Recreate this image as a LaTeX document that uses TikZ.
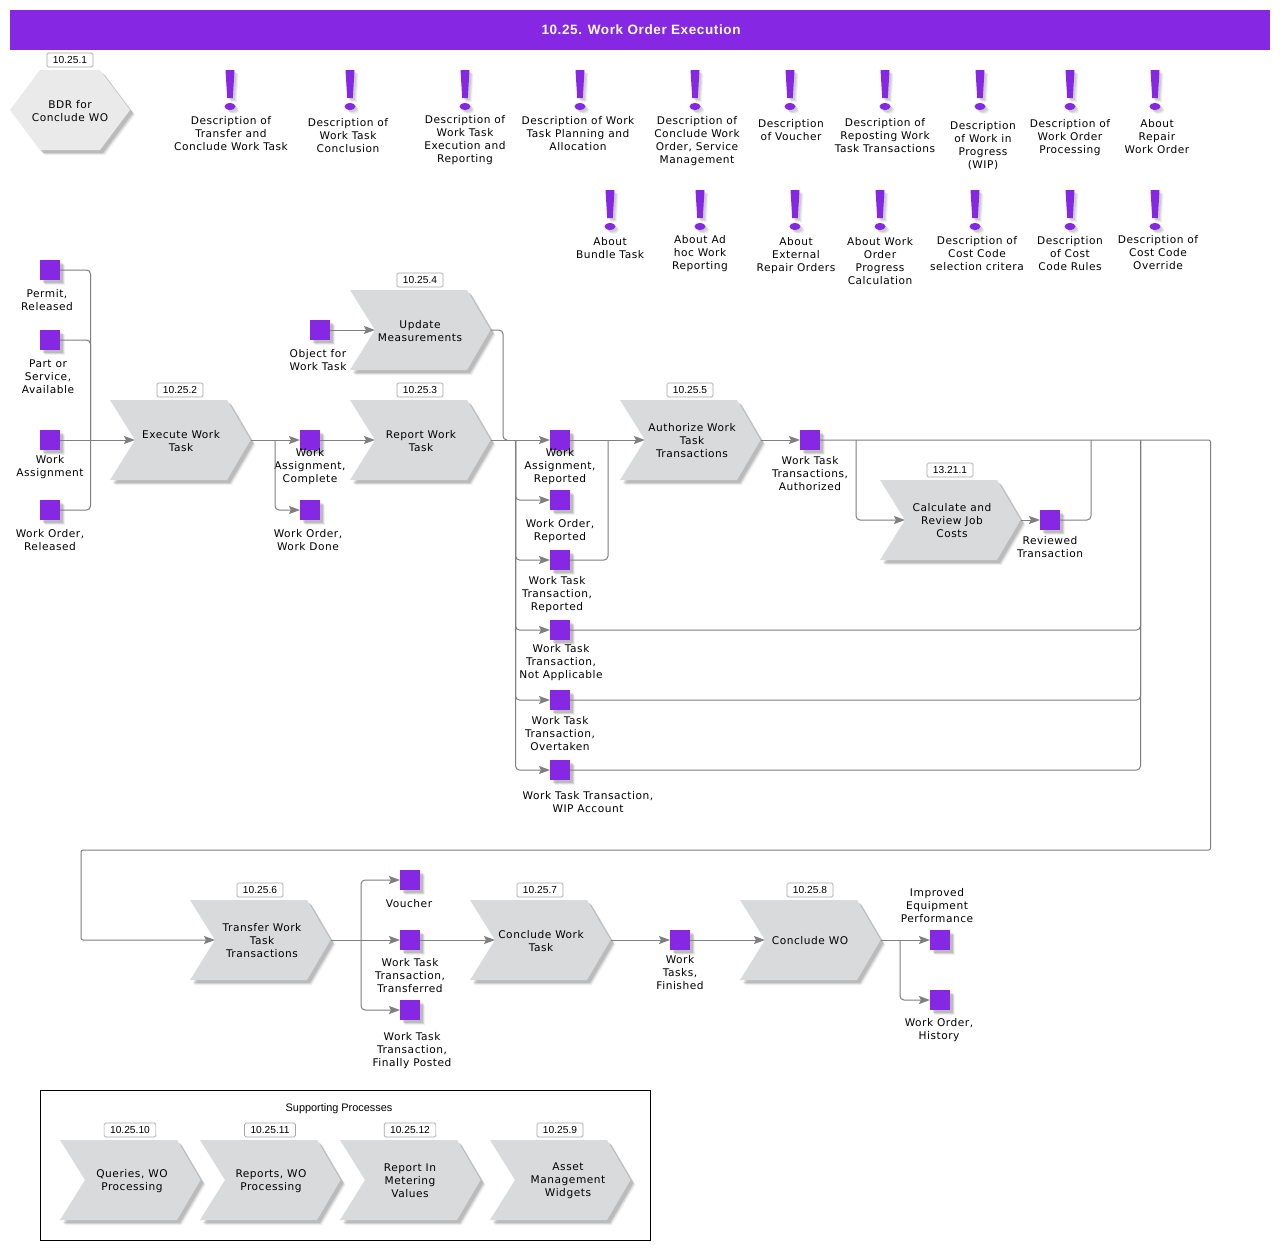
\documentclass[tikz,border=0pt]{standalone}
\usepackage{fontspec}
\setmainfont[LetterSpace=5]{DejaVu Sans}
\newfontfamily\arialfont{Liberation Sans}
\newfontfamily\titlefont[LetterSpace=4.5]{Liberation Sans}
\usetikzlibrary{arrows.meta,shadows,calc}
\definecolor{brand}{HTML}{8628E3}
\definecolor{chevfill}{HTML}{D9DADC}
\definecolor{hexfill}{HTML}{EAEAEA}
\definecolor{linecol}{HTML}{7F7F7F}
\tikzset{
  softsh/.style={general shadow={shadow xshift=5pt,shadow yshift=-5pt,opacity=.06,fill=black,draw=none},
    general shadow={shadow xshift=4pt,shadow yshift=-4pt,opacity=.10,fill=black,draw=none},
    general shadow={shadow xshift=3pt,shadow yshift=-3pt,opacity=.13,fill=black,draw=none}},
  lightsh/.style={general shadow={shadow xshift=4pt,shadow yshift=-4pt,opacity=.05,fill=black,draw=none},
    general shadow={shadow xshift=3pt,shadow yshift=-3pt,opacity=.08,fill=black,draw=none},
    general shadow={shadow xshift=2pt,shadow yshift=-2pt,opacity=.08,fill=black,draw=none}},
  txt/.style={align=center,inner sep=0pt,yshift=-1pt,font=\fontsize{10.6}{13}\selectfont,text=black},
  sq/.style={fill=brand,minimum size=20pt,inner sep=0pt,outer sep=0pt,softsh},
  tag/.style={draw=gray!70,fill=white,rounded corners=1.5pt,line width=.7pt,minimum height=14pt,inner ysep=0pt,inner xsep=6pt,font=\arialfont\fontsize{10.2}{12}\selectfont},
  flow/.style={draw=linecol,line width=1pt,rounded corners=4pt},
  arr/.style={flow,-{Stealth[length=11pt,width=8pt,inset=2pt,fill=linecol]}},
}
\newcommand{\chev}[6]{% name, x, y, tag, text x, text y / text
  \path[fill=chevfill,softsh] (#2,#3) -- ++(117,0) -- ++(23.5,40) -- ++(-23.5,40) -- ++(-117,0) -- ++(25,-40) -- cycle;
  \coordinate (#1-in) at ($(#2,#3)+(25,40)$);
  \coordinate (#1-out) at ($(#2,#3)+(140.5,40)$);
  \node[tag] (#1-tag) at ($(#2,#3)+(70,-10)$) {#4};
  \node[txt] (#1) at (#5,#6) {\chevtext};
}
\newcommand{\chevtext}{}
\newcommand{\excl}[3]{% name, x, y
  \path[fill=brand,lightsh] (#2-4.5,#3) -- (#2+4.5,#3) -- (#2+2.8,#3+28) -- (#2-2.8,#3+28) -- cycle;
  \path[fill=brand,lightsh] (#2,#3+36.5) ellipse [x radius=5.5,y radius=3.6];
  \coordinate (#1) at (#2,#3);
}
\begin{document}
\begin{tikzpicture}[x=1pt,y=-1pt]
\useasboundingbox (0,0) rectangle (1280,1250);
\fill[white] (0,0) rectangle (1280,1250);
\node[fill=brand,minimum width=1260pt,minimum height=40pt,inner sep=0pt,text=white,font=\titlefont\bfseries\fontsize{13.5}{15}\selectfont] (title) at (640,30) {\hspace{2pt}10.25. Work Order Execution};

% BDR
\path[fill=hexfill,softsh] (10,110) -- (40,70) -- (100,70) -- (130,110) -- (100,150) -- (40,150) -- cycle;
\node[tag] (bdrtag) at (70,60) {10.25.1};
\node[txt] (bdr) at (70,110.5) {BDR for\\Conclude WO};

% marks
\excl{m1}{230}{70}\node[txt] (t1) at (231,133) {Description of\\Transfer and\\Conclude Work Task};
\excl{m2}{350}{70}\node[txt] (t2) at (348,135) {Description of\\Work Task\\Conclusion};
\excl{m3}{465}{70}\node[txt] (t3) at (465,139) {Description of\\Work Task\\Execution and\\Reporting};
\excl{m4}{580}{70}\node[txt] (t4) at (578,133) {Description of Work\\Task Planning and\\Allocation};
\excl{m5}{695}{70}\node[txt] (t5) at (697,140) {Description of\\Conclude Work\\Order, Service\\Management};
\excl{m6}{790}{70}\node[txt] (t6) at (791,129.5) {Description\\of Voucher};
\excl{m7}{885}{70}\node[txt] (t7) at (885,135) {Description of\\Reposting Work\\Task Transactions};
\excl{m8}{980}{70}\node[txt] (t8) at (983,144.5) {Description\\of Work in\\Progress\\(WIP)};
\excl{m9}{1070}{70}\node[txt] (t9) at (1070,137) {Description of\\Work Order\\Processing};
\excl{m10}{1155}{70}\node[txt] (t10) at (1157,136) {About\\Repair\\Work Order};
\excl{n1}{610}{190}\node[txt] (u1) at (610,247.5) {About\\Bundle Task};
\excl{n2}{700}{190}\node[txt] (u2) at (700,253) {About Ad\\hoc Work\\Reporting};
\excl{n3}{795}{190}\node[txt] (u3) at (796,255) {About\\External\\Repair Orders};
\excl{n4}{880}{190}\node[txt] (u4) at (880,260) {About Work\\Order\\Progress\\Calculation};
\excl{n5}{975}{190}\node[txt] (u5) at (977,253) {Description of\\Cost Code\\selection critera};
\excl{n6}{1070}{190}\node[txt] (u6) at (1070,253) {Description\\of Cost\\Code Rules};
\excl{n7}{1155}{190}\node[txt] (u7) at (1158,252) {Description of\\Cost Code\\Override};

% chevrons
\renewcommand{\chevtext}{Execute Work\\Task}\chev{exec}{110}{400}{10.25.2}{181}{440.5}
\renewcommand{\chevtext}{Update\\Measurements}\chev{upd}{350}{290}{10.25.4}{420}{330.5}
\renewcommand{\chevtext}{Report Work\\Task}\chev{rep}{350}{400}{10.25.3}{421}{440.5}
\renewcommand{\chevtext}{Authorize Work\\Task\\Transactions}\chev{auth}{620}{400}{10.25.5}{692}{440}
\renewcommand{\chevtext}{Calculate and\\Review Job\\Costs}\chev{calc}{880}{480}{13.21.1}{952}{520}
\renewcommand{\chevtext}{Transfer Work\\Task\\Transactions}\chev{trans}{190}{900}{10.25.6}{262}{940}
\renewcommand{\chevtext}{Conclude Work\\Task}\chev{conc}{470}{900}{10.25.7}{541}{940.5}
\renewcommand{\chevtext}{Conclude WO}\chev{cwo}{740}{900}{10.25.8}{810}{940}

% squares
\foreach \n/\x/\y in {a1/50/270,a2/50/340,a3/50/440,a4/50/510,b1/310/440,b2/310/510,ob/320/330,
  c1/560/440,c2/560/500,c3/560/560,c4/560/630,c5/560/700,c6/560/770,d1/810/440,d2/1050/520,
  e1/410/880,e2/410/940,e3/410/1010,f1/680/940,g1/940/940,g2/940/1000}
  {\node[sq] (\n) at (\x,\y) {};}

\node[txt] (a1l) at (47,299.5) {Permit,\\Released};
\node[txt] (a2l) at (48,376) {Part or\\Service,\\Available};
\node[txt] (a3l) at (50,466.5) {Work\\Assignment};
\node[txt] (a4l) at (50,539.5) {Work Order,\\Released};
\node[txt] (b1l) at (310,466) {Work\\Assignment,\\Complete};
\node[txt] (b2l) at (308,539.5) {Work Order,\\Work Done};
\node[txt] (obl) at (318,359.5) {Object for\\Work Task};
\node[txt] (c1l) at (560,466) {Work\\Assignment,\\Reported};
\node[txt] (c2l) at (560,530.5) {Work Order,\\Reported};
\node[txt] (c3l) at (557,594) {Work Task\\Transaction,\\Reported};
\node[txt] (c4l) at (561,662) {Work Task\\Transaction,\\Not Applicable};
\node[txt] (c5l) at (560,733) {Work Task\\Transaction,\\Overtaken};
\node[txt] (c6l) at (588,801.5) {Work Task Transaction,\\WIP Account};
\node[txt] (d1l) at (810,473) {Work Task\\Transactions,\\Authorized};
\node[txt] (d2l) at (1050,546.5) {Reviewed\\Transaction};
\node[txt] (e1l) at (409,903) {Voucher};
\node[txt] (e2l) at (410,975) {Work Task\\Transaction,\\Transferred};
\node[txt] (e3l) at (412,1050) {Work Task\\Transaction,\\Finally Posted};
\node[txt] (f1l) at (680,972) {Work\\Tasks,\\Finished};
\node[txt] (g1l) at (937,905) {Improved\\Equipment\\Performance};
\node[txt] (g2l) at (939,1029.5) {Work Order,\\History};

% connectors left
\coordinate (j1) at (90.5,440);
\draw[flow] (a1.east) -| (j1);
\draw[flow] (a2.east) -| (j1);
\draw[flow] (a4.east) -| (j1);
\draw[arr] (a3.east) -- (exec-in);
\draw[arr] (exec-out) -- (b1.west);
\coordinate (j2) at (275,440);
\draw[arr] (j2) |- (b2.west);
\draw[arr] (ob.east) -- (upd-in);
\draw[arr] (b1.east) -- (rep-in);
\draw[arr] (rep-out) -- (c1.west);
\coordinate (j3) at (503,440);
\draw[flow] (upd-out) -| (j3) -- ++(4,0);
\coordinate (j4) at (515.5,440);
\draw[arr] (j4) |- (c2.west);
\draw[arr] (j4) |- (c3.west);
\draw[arr] (j4) |- (c4.west);
\draw[arr] (j4) |- (c5.west);
\draw[arr] (j4) |- (c6.west);
\draw[arr] (c1.east) -- (auth-in);
\coordinate (j5) at (608,440);
\draw[flow] (c3.east) -| (j5);
\draw[arr] (auth-out) -- (d1.west);
\coordinate (j6) at (856,440);
\draw[arr] (j6) |- (calc-in);
\draw[arr] (calc-out) -- (d2.west);
\coordinate (j7) at (1091,440);
\draw[flow] (d2.east) -| (j7);
\coordinate (j8) at (1140.5,440);
\draw[flow] (c4.east) -| (j8);
\draw[flow] (c5.east) -| (j8);
\draw[flow] (c6.east) -| (j8);
\coordinate (r1) at (1210.5,440);
\coordinate (r2) at (1210.5,850);
\coordinate (r3) at (81,850);
\coordinate (r4) at (81,940);
\draw[arr,rounded corners=2pt] (d1.east) -- (r1) -- (r2) -- (r3) -- (r4) -- (trans-in);
% lower
\draw[arr] (trans-out) -- (e2.west);
\coordinate (j9) at (361,940);
\draw[arr] (j9) |- (e1.west);
\draw[arr] (j9) |- (e3.west);
\draw[arr] (e2.east) -- (conc-in);
\draw[arr] (conc-out) -- (f1.west);
\draw[arr] (f1.east) -- (cwo-in);
\draw[arr] (cwo-out) -- (g1.west);
\coordinate (j10) at (900,940);
\draw[arr] (j10) |- (g2.west);

% supporting
\node[draw=black,line width=.8pt,minimum width=610pt,minimum height=150pt,inner sep=0pt] (suppbox) at (345,1165) {};
\node[inner sep=0pt,font=\arialfont\fontsize{10.9}{12}\selectfont] (supt) at (339,1109) {Supporting Processes};
\renewcommand{\chevtext}{Queries, WO\\Processing}\chev{s1}{60}{1140}{10.25.10}{132}{1180.5}
\renewcommand{\chevtext}{Reports, WO\\Processing}\chev{s2}{200}{1140}{10.25.11}{271}{1180.5}
\renewcommand{\chevtext}{Report In\\Metering\\Values}\chev{s3}{340}{1140}{10.25.12}{410}{1180}
\renewcommand{\chevtext}{Asset\\Management\\Widgets}\chev{s4}{490}{1140}{10.25.9}{568}{1180}
\end{tikzpicture}
\end{document}
